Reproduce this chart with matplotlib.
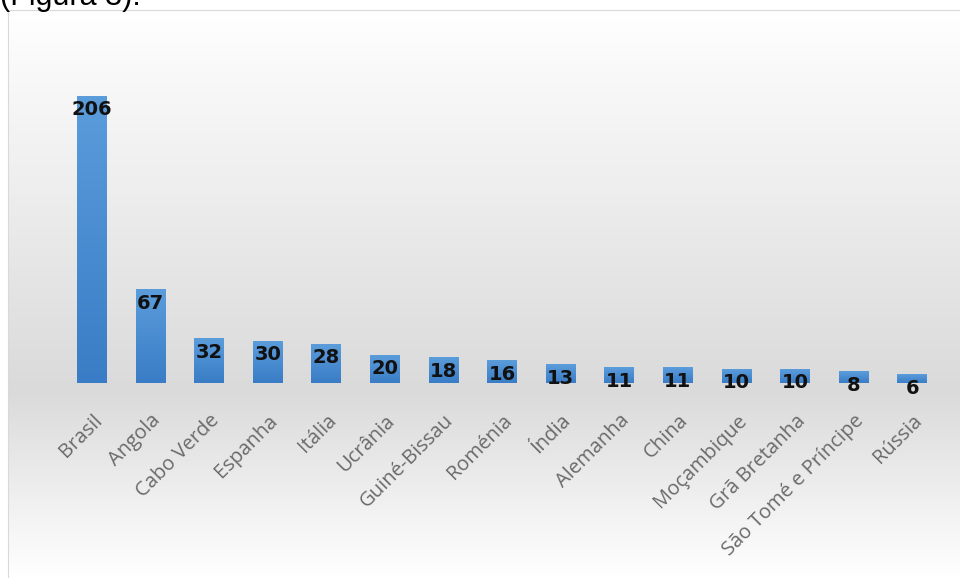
import matplotlib.pyplot as plt
import numpy as np
from matplotlib.colors import LinearSegmentedColormap

# Data
countries = ["Brasil", "Angola", "Cabo Verde", "Espanha", "Itália", "Ucrânia",
             "Guiné-Bissau", "Roménia", "Índia", "Alemanha", "China",
             "Moçambique", "Grã Bretanha", "São Tomé e Príncipe", "Rússia"]
values = [206, 67, 32, 30, 28, 20, 18, 16, 13, 11, 11, 10, 10, 8, 6]

fig = plt.figure(figsize=(9.6, 5.78), dpi=100)

# Background panel with vertical grey gradient
bg = fig.add_axes([8 / 960, 0, 1 - 8 / 960, 568 / 578])
bg_cmap = LinearSegmentedColormap.from_list(
    "bg", [(0, "#ffffff"), (0.33, "#dadada"), (1.0, "#ffffff")])
grad = np.linspace(1, 0, 256).reshape(-1, 1)
bg.imshow(grad, aspect="auto", cmap=bg_cmap, extent=[0, 1, 0, 1], vmin=0, vmax=1)
bg.set_xlim(0, 1)
bg.set_ylim(0, 1)
bg.set_xticks([])
bg.set_yticks([])
for side in ["right", "bottom"]:
    bg.spines[side].set_visible(False)
bg.spines["left"].set_color("#d9d9d9")
bg.spines["top"].set_color("#d9d9d9")

# Caption text from the page above, cut by the top edge as in the source
fig.text(0.0, 1.005, "(Figura 3).", fontsize=22, color="#000000",
         va="center", ha="left", family="Liberation Sans")

# Main axes
ax = fig.add_axes([8 / 960, 195 / 578, 950 / 960, 373 / 578])
ax.patch.set_alpha(0)
x = np.arange(len(countries))
bars = ax.bar(x, values, width=0.51, color="#4a8ed4", zorder=2)

bar_cmap = LinearSegmentedColormap.from_list("bar", ["#3a7dc6", "#5b9cdb"])
bgrad = np.linspace(1, 0, 100).reshape(-1, 1)
for b in bars:
    x0, w, h = b.get_x(), b.get_width(), b.get_height()
    ax.imshow(bgrad, aspect="auto", cmap=bar_cmap, extent=[x0, x0 + w, 0, h],
              zorder=3, vmin=0, vmax=1)

for xi, v in zip(x, values):
    ax.annotate(str(v), (xi, v), xytext=(0, -3), textcoords="offset points",
                ha="center", va="top", fontsize=14, fontweight="bold",
                color="#111111", zorder=4, family="DejaVu Sans")

ax.set_xlim(-1.433, 14.78)
ax.set_ylim(0, 268)
ax.set_xticks(x)
ax.set_xticklabels(countries, rotation=45, ha="right", rotation_mode="anchor",
                   fontsize=14.5, color="#6a6a6a", family="Open Sans")
ax.tick_params(axis="x", length=0, pad=20)
ax.set_yticks([])
for s in ax.spines.values():
    s.set_visible(False)

plt.savefig("out.png", dpi=100)
